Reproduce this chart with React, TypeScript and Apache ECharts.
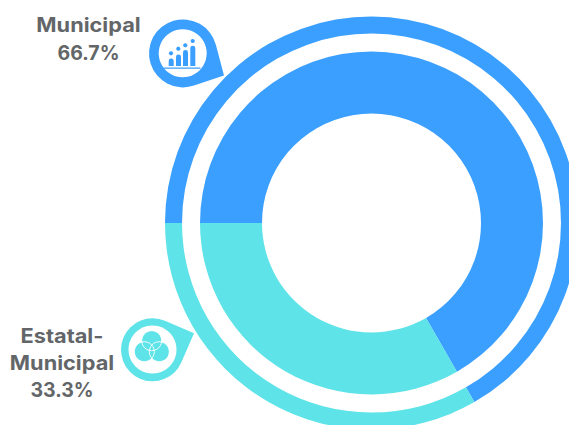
import React, { useEffect, useRef } from "react";
import * as echarts from "echarts";

const categories = ["Municipal", "Estatal-Municipal"];
const values = [66.7, 33.3];
const colors = ["#3A9FFF", "#5DE3E8"];
const labelLines = [["Municipal", "66.7%"], ["Estatal-", "Municipal", "33.3%"]];

const TEXT = "#636668";
const FONT = "Inter, 'Noto Sans', sans-serif";

function pinPath(R: number, tx: number, ty: number) {
  const d = Math.hypot(tx, ty);
  const a = Math.atan2(ty, tx);
  const b = Math.acos(R / d);
  const p1 = [R * Math.cos(a - b), R * Math.sin(a - b)];
  const p2 = [R * Math.cos(a + b), R * Math.sin(a + b)];
  return `M${p1[0]} ${p1[1]}L${tx} ${ty}L${p2[0]} ${p2[1]}A${R} ${R} 0 1 1 ${p1[0]} ${p1[1]}Z`;
}
echarts.graphic.registerShape("pinBlue", echarts.graphic.extendPath(pinPath(34, 41, 22), {}) as any);
echarts.graphic.registerShape("pinTeal", echarts.graphic.extendPath(pinPath(31.5, 41.5, -16.5), {}) as any);

function textEl(lines: string[], cx: number, y0: number, lh: number) {
  return lines.map((t, i) => ({
    type: "text",
    silent: true,
    x: cx,
    y: y0 + i * lh,
    scaleX: t.includes("%") ? 1 : 1.115,
    style: { text: t, fill: TEXT, font: `700 19.5px ${FONT}`, textAlign: "center", textVerticalAlign: "middle" },
  }));
}

export default function App() {
  const ref = useRef<HTMLDivElement>(null);
  useEffect(() => {
    document.body.style.margin = "0";
    document.body.style.overflow = "hidden";
    const chart = echarts.init(ref.current!, undefined, { renderer: "svg" });
    const data = categories.map((name, i) => ({ name, value: values[i], itemStyle: { color: colors[i] } }));
    const base = {
      type: "pie",
      center: [371.5, 223],
      startAngle: 180,
      clockwise: true,
      silent: true,
      label: { show: false },
      labelLine: { show: false },
      data,
    };
    const bars = [
      [168.7, 58.5, 5, 7.5], [176, 54.5, 5, 11.5], [183, 50, 5, 16], [190.3, 45.7, 5, 20.3],
    ];
    const dots = [[171, 53.3], [178.3, 48.7], [185.3, 45.3], [192.7, 41]];
    const tealC = [[151.7, 340.7, 10], [144.3, 351.7, 10], [159.3, 351.7, 10]];
    chart.setOption({
      animation: false,
      backgroundColor: "#fff",
      series: [
        { ...base, radius: [189.5, 206.5] },
        { ...base, radius: [109.5, 171.5] },
      ],
      graphic: [
        { type: "pinBlue", x: 183, y: 53.4, silent: true, style: { fill: colors[0] } },
        { type: "circle", silent: true, shape: { cx: 182.7, cy: 53.2, r: 24 }, style: { fill: "#fff" } },
        ...bars.map(([x, y, width, height]) => ({
          type: "rect", silent: true,
          shape: { x, y, width, height, r: [2.4, 2.4, 0, 0] },
          style: { fill: colors[0] },
        })),
        ...dots.map(([cx, cy]) => ({
          type: "circle", silent: true, shape: { cx, cy, r: 2.1 }, style: { fill: colors[0] },
        })),
        { type: "rect", silent: true, shape: { x: 163.5, y: 67.5, width: 37, height: 1.2 }, style: { fill: colors[0] } },
        { type: "pinTeal", x: 152.5, y: 349.8, silent: true, style: { fill: colors[1] } },
        { type: "circle", silent: true, shape: { cx: 152.5, cy: 349.5, r: 24 }, style: { fill: "#fff" } },
        ...tealC.map(([cx, cy, r]) => ({
          type: "circle", silent: true, shape: { cx, cy, r }, style: { fill: colors[1] },
        })),
        ...tealC.map(([cx, cy, r]) => ({
          type: "circle", silent: true, shape: { cx, cy, r }, style: { fill: "none", stroke: "#fff", lineWidth: 0.9 },
        })),
        ...textEl(labelLines[0], 88.5, 25, 27.5),
        ...textEl(labelLines[1], 62, 335.5, 27),
      ],
    });
    return () => chart.dispose();
  }, []);
  return <div ref={ref} style={{ width: 569, height: 425 }} />;
}
